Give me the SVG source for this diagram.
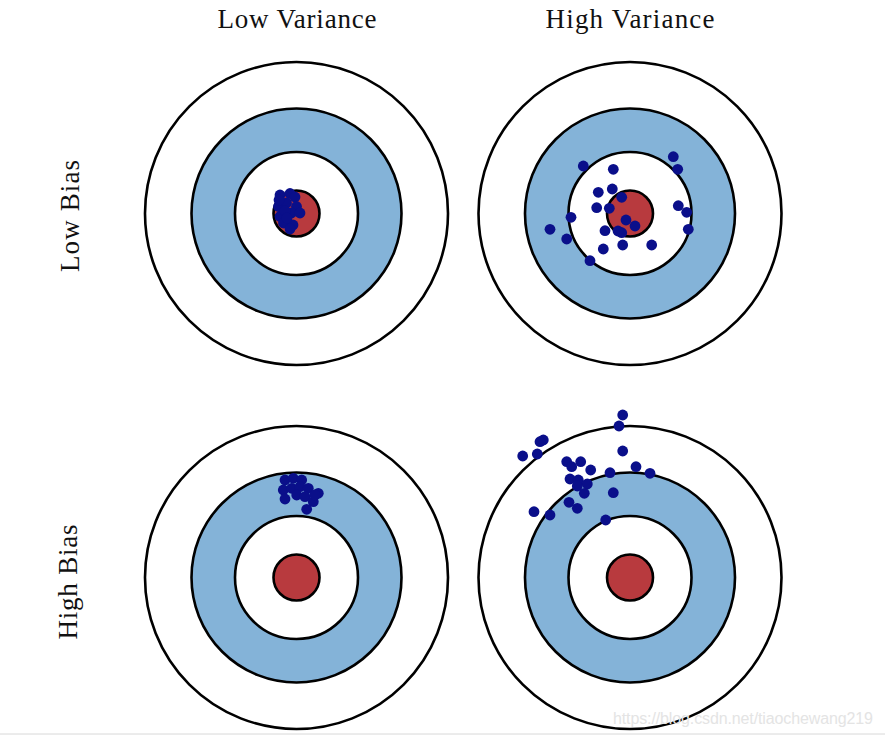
<svg xmlns="http://www.w3.org/2000/svg" width="885" height="737" viewBox="0 0 885 737">
<defs>
<style>
.ring{stroke:#000;stroke-width:2.6}
.w{fill:#fff}
.b{fill:#84b3d8}
.r{fill:#b83a3e}
.d circle{fill:#0a0f8a;r:5.4px}
.t{font-family:"Liberation Serif",serif;font-size:27px;fill:#111}
.wm{font-family:"Liberation Sans",sans-serif;font-size:16px;fill:#e4e4e4}
</style>
<g id="target">
<circle class="ring w" r="151.5"/>
<circle class="ring b" r="105"/>
<circle class="ring w" r="61.5"/>
<circle class="ring r" r="23"/>
</g>
</defs>
<rect width="885" height="737" fill="#fff"/>
<g id="labels">
<text class="t" x="297" y="28" text-anchor="middle" textLength="159">Low Variance</text>
<text class="t" x="630" y="28" text-anchor="middle" textLength="169">High Variance</text>
<text class="t" transform="translate(79,216) rotate(-90)" text-anchor="middle" textLength="112">Low Bias</text>
<text class="t" transform="translate(77,582) rotate(-90)" text-anchor="middle" textLength="115">High Bias</text>
</g>
<g id="lowbias-lowvar">
<use href="#target" x="296.5" y="213.5"/>
<g class="d">
<circle cx="280" cy="195" r="5.4"/><circle cx="290" cy="193.5" r="5.4"/><circle cx="295" cy="197" r="5.4"/>
<circle cx="278.5" cy="206.5" r="5.4"/><circle cx="286.5" cy="203" r="5.4"/><circle cx="296.5" cy="206.5" r="5.4"/>
<circle cx="280" cy="216.5" r="5.4"/><circle cx="291.5" cy="213" r="5.4"/><circle cx="300" cy="213" r="5.4"/>
<circle cx="283.5" cy="223" r="5.4"/><circle cx="293" cy="225" r="5.4"/><circle cx="290" cy="229" r="5.4"/>
<circle cx="285" cy="211" r="5.4"/><circle cx="279" cy="200" r="5.4"/><circle cx="287" cy="218" r="5.4"/>
</g>
</g>
<g id="lowbias-highvar">
<use href="#target" x="630" y="213.5"/>
<g class="d">
<circle cx="583.3" cy="166" r="5.4"/><circle cx="613.3" cy="169.3" r="5.4"/><circle cx="673.3" cy="156.7" r="5.4"/>
<circle cx="677.7" cy="169.3" r="5.4"/><circle cx="598.3" cy="192.3" r="5.4"/><circle cx="612.3" cy="189" r="5.4"/>
<circle cx="621.7" cy="197.3" r="5.4"/><circle cx="596.7" cy="207.7" r="5.4"/><circle cx="609.3" cy="208.3" r="5.4"/>
<circle cx="678.3" cy="205.7" r="5.4"/><circle cx="686.7" cy="212.3" r="5.4"/><circle cx="571" cy="217.3" r="5.4"/>
<circle cx="626" cy="220" r="5.4"/><circle cx="635" cy="226" r="5.4"/><circle cx="550" cy="229.3" r="5.4"/>
<circle cx="605" cy="230.7" r="5.4"/><circle cx="621.7" cy="232.7" r="5.4"/><circle cx="688.3" cy="229.3" r="5.4"/>
<circle cx="566.7" cy="239" r="5.4"/><circle cx="622.7" cy="245" r="5.4"/><circle cx="603.3" cy="249" r="5.4"/>
<circle cx="651.7" cy="245" r="5.4"/><circle cx="590" cy="260.7" r="5.4"/><circle cx="618" cy="231" r="5.4"/>
</g>
</g>
<g id="highbias-lowvar">
<use href="#target" x="296.5" y="577.5"/>
<g class="d">
<circle cx="285" cy="480" r="5.4"/><circle cx="293.3" cy="478.3" r="5.4"/><circle cx="301.7" cy="480" r="5.4"/>
<circle cx="283.3" cy="490" r="5.4"/><circle cx="291.7" cy="488.3" r="5.4"/><circle cx="300" cy="486.7" r="5.4"/>
<circle cx="308.3" cy="488.3" r="5.4"/><circle cx="318.3" cy="493.3" r="5.4"/><circle cx="285" cy="499" r="5.4"/>
<circle cx="296.7" cy="495" r="5.4"/><circle cx="305" cy="496.7" r="5.4"/><circle cx="313.3" cy="501.7" r="5.4"/>
<circle cx="306.7" cy="509.3" r="5.4"/><circle cx="315" cy="495" r="5.4"/>
</g>
</g>
<g id="highbias-highvar">
<use href="#target" x="630" y="577.5"/>
<g class="d">
<circle cx="622.7" cy="415" r="5.4"/><circle cx="619" cy="426" r="5.4"/><circle cx="543.3" cy="440" r="5.4"/>
<circle cx="540" cy="441.7" r="5.4"/><circle cx="522.7" cy="456" r="5.4"/><circle cx="537.3" cy="454" r="5.4"/>
<circle cx="622.7" cy="451" r="5.4"/><circle cx="566.7" cy="461.7" r="5.4"/><circle cx="580.7" cy="461.7" r="5.4"/>
<circle cx="571.7" cy="466.7" r="5.4"/><circle cx="590.7" cy="470" r="5.4"/><circle cx="636" cy="466.7" r="5.4"/>
<circle cx="650" cy="473.3" r="5.4"/><circle cx="610" cy="472.7" r="5.4"/><circle cx="570" cy="479" r="5.4"/>
<circle cx="578.3" cy="480" r="5.4"/><circle cx="577.3" cy="486" r="5.4"/><circle cx="587.3" cy="484" r="5.4"/>
<circle cx="584.3" cy="493.3" r="5.4"/><circle cx="613.3" cy="492.7" r="5.4"/><circle cx="569" cy="502.3" r="5.4"/>
<circle cx="577.3" cy="508.3" r="5.4"/><circle cx="534" cy="511.7" r="5.4"/><circle cx="550" cy="515" r="5.4"/>
<circle cx="605.7" cy="520" r="5.4"/>
</g>
</g>
<g id="watermark">
<text class="wm" x="613" y="724" textLength="260">https://blog.csdn.net/tiaochewang219</text>
<line x1="0" y1="734" x2="885" y2="734" stroke="#d8d8d8" stroke-width="1"/>
</g>
</svg>
